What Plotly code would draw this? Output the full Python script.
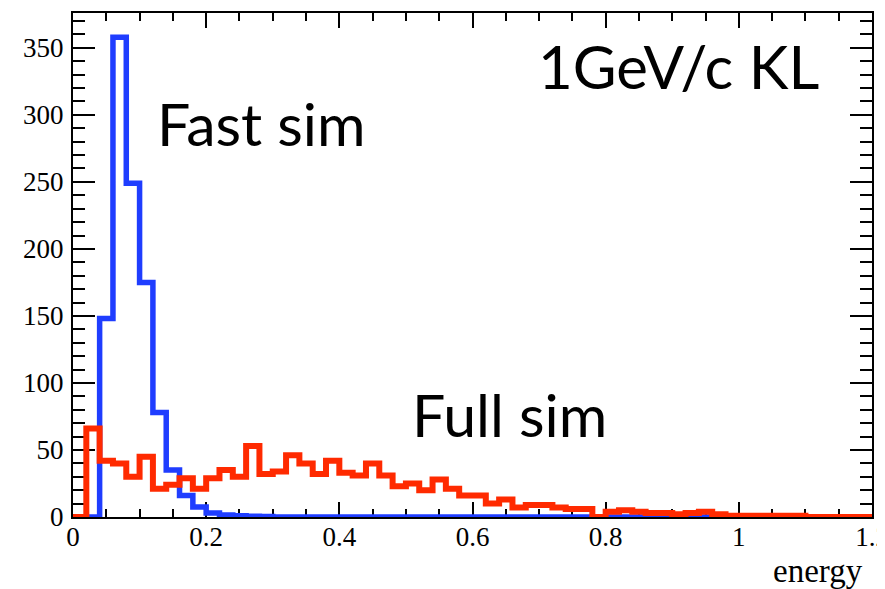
import numpy as np
import plotly.graph_objects as go

# Histogram binning (energy, GeV)
x_min = 0.0
x_max = 1.2
bin_width = 0.02

# Fast sim (blue) bin contents, 60 bins of 0.02 from 0 to 1.2
fast_sim = [0, 0, 148, 358, 249, 175, 78, 35, 16, 7.5,
            3, 1.5, 1, 0.5, 0.3, 0, 0, 0, 0, 0,
            0, 0, 0, 0, 0, 0, 0, 0, 0, 0,
            0, 0, 0, 0, 0, 0, 0, 0, 0, 0,
            0, 0, 0, 0, 0, 0, 0, 0, 0, 0,
            0, 0, 0, 0, 0, 0, 0, 0, 0, 0]

# Full sim (red) bin contents
full_sim = [0, 66, 42, 40, 30, 45, 21, 24, 29, 21,
            29, 35, 30, 53, 32, 34, 46, 40, 32, 42,
            33, 31, 40, 31, 23, 25, 20, 28, 21, 16,
            16, 10, 13, 7, 9, 9, 7, 6, 6, 0,
            4, 5, 4, 3, 3, 2, 3, 4, 2, 1,
            1, 1, 1, 1, 1, 0, 0, 0, 0, 0]

y_max = 376
x_ticks = [0, 0.2, 0.4, 0.6, 0.8, 1, 1.2]
x_ticklabels = ["0", "0.2", "0.4", "0.6", "0.8", "1", "1.2"]
y_ticks = [0, 50, 100, 150, 200, 250, 300, 350]

edges = x_min + bin_width * np.arange(len(full_sim) + 1)


def step_xy(vals):
    xs = list(edges)
    ys = list(vals) + [vals[-1]]
    return xs, ys


fig = go.Figure()
bx, by = step_xy(fast_sim)
rx, ry = step_xy(full_sim)
fig.add_trace(go.Scatter(x=bx, y=by, mode="lines", line=dict(shape="hv", color="#1f3dff", width=5.5),
                         showlegend=False, hoverinfo="skip"))
fig.add_trace(go.Scatter(x=rx, y=ry, mode="lines", line=dict(shape="hv", color="#ff2a00", width=6),
                         showlegend=False, hoverinfo="skip"))

# page body has an 8px margin: figure is drawn at (8, 8) in the window
OFF = 8
W, H = 885 - OFF, 589 - OFF
# desired plot-area pixels in the window
L_px, R_px, T_px, B_px = 73, 872, 13, 517
ml, mr, mt, mb = L_px - OFF, W - (R_px - OFF), T_px - OFF, H - (B_px - OFF)
pw = W - ml - mr
ph = H - mt - mb


def px_x(p):
    return (p - L_px) / pw


def px_y(p):
    return 1 - (p - T_px) / ph


tickfont = dict(family="Liberation Serif, Times New Roman, serif", size=27, color="black")

fig.update_xaxes(range=[x_min, x_max], tickvals=x_ticks, ticktext=x_ticklabels,
                 ticks="inside", ticklen=15, tickwidth=1.5, tickcolor="black",
                 showline=True, linecolor="black", linewidth=2, mirror="allticks",
                 minor=dict(dtick=0.05, ticks="inside", ticklen=8, tickwidth=1.5, tickcolor="black", showgrid=False),
                 showgrid=False, zeroline=False, tickfont=tickfont, layer="below traces",
                 automargin=False, ticklabelstandoff=-5, ticklabeloverflow="allow")
fig.update_yaxes(range=[0, y_max], tickvals=y_ticks,
                 ticks="inside", ticklen=22, tickwidth=1.5, tickcolor="black",
                 showline=True, linecolor="black", linewidth=2, mirror="allticks",
                 minor=dict(dtick=10, ticks="inside", ticklen=12, tickwidth=1.5, tickcolor="black", showgrid=False),
                 showgrid=False, zeroline=False, tickfont=tickfont, layer="below traces",
                 automargin=False, ticklabelstandoff=2, ticklabeloverflow="allow")

sans = "Lato, Open Sans, sans-serif"
fig.add_annotation(text="Fast sim", xref="paper", yref="paper",
                   x=px_x(155), y=px_y(123), xanchor="left", yanchor="middle",
                   showarrow=False, font=dict(family=sans, size=59, color="black"))
fig.add_annotation(text="Full sim", xref="paper", yref="paper",
                   x=px_x(410), y=px_y(414), xanchor="left", yanchor="middle",
                   showarrow=False, font=dict(family=sans, size=59, color="black"))
fig.add_annotation(text="1GeV/c KL", xref="paper", yref="paper",
                   x=px_x(536), y=px_y(66), xanchor="left", yanchor="middle",
                   showarrow=False, font=dict(family=sans, size=60, color="black"))
fig.add_annotation(text="energy", xref="paper", yref="paper",
                   x=px_x(865), y=px_y(571), xanchor="right", yanchor="middle",
                   showarrow=False, font=dict(family="Liberation Serif, Times New Roman, serif", size=33, color="black"))

fig.update_layout(width=W, height=H, margin=dict(l=ml, r=mr, t=mt, b=mb),
                  paper_bgcolor="white", plot_bgcolor="white")

fig.write_html("out.html")
